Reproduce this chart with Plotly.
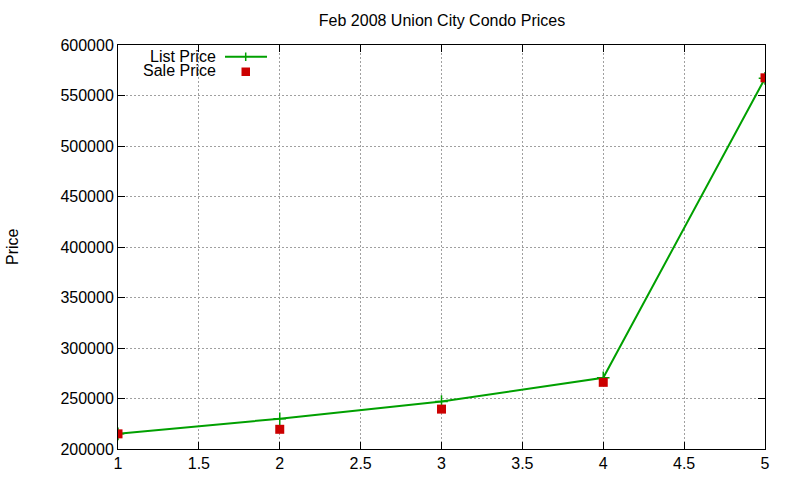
import plotly.graph_objects as go

# data
listings = [1, 2, 3, 4, 5]
list_price = [215000, 230000, 247000, 270500, 567000]
sale_price = [215000, 219500, 239500, 266000, 567500]

x_ticks = [1, 1.5, 2, 2.5, 3, 3.5, 4, 4.5, 5]
y_ticks = [200000, 250000, 300000, 350000, 400000, 450000, 500000, 550000, 600000]

GREEN = "#00a000"
RED = "#cc0000"
FONT = "Liberation Sans, Arial, sans-serif"
FS = 16

# plot area in pixels (gnuplot layout)
L, R, T, B = 118, 765, 45, 449
PW, PH = R - L, B - T


def px(x):
    return (x - L) / PW


def py(y):
    return (B - y) / PH


fig = go.Figure()

fig.add_trace(go.Scatter(
    x=listings, y=list_price, mode="lines+markers", name="List Price",
    line=dict(color=GREEN, width=2),
    marker=dict(symbol="cross-thin-open", size=9, line=dict(color=GREEN, width=1.5)),
    showlegend=False,
))
fig.add_trace(go.Scatter(
    x=listings, y=sale_price, mode="markers", name="Sale Price",
    marker=dict(symbol="square", size=9, color=RED),
    showlegend=False,
))

axis_common = dict(
    showline=True, linecolor="black", linewidth=1, mirror="ticks",
    ticks="inside", ticklen=7, tickcolor="black",
    showgrid=True, gridcolor="#a0a0a0", griddash="2px,2px", gridwidth=1,
    zeroline=False, automargin=False,
    tickfont=dict(family=FONT, size=FS, color="black"),
)

fig.update_xaxes(range=[1, 5], tickvals=x_ticks,
                 ticktext=[f"{v:g}" for v in x_ticks], **axis_common)
fig.update_yaxes(range=[200000, 600000], tickvals=y_ticks,
                 ticktext=[str(v) for v in y_ticks], **axis_common)

# gnuplot-style key: text on the left, sample on the right
for label, yc in [("List Price", 56.0), ("Sale Price", 70.5)]:
    fig.add_annotation(text=label, xref="paper", yref="paper",
                       x=px(217), y=py(yc), height=14, borderpad=0,
                       xanchor="right", yanchor="middle", valign="middle",
                       showarrow=False,
                       font=dict(family=FONT, size=FS, color="black"))
# list price sample
fig.add_shape(type="line", xref="paper", yref="paper",
              x0=px(225), x1=px(267), y0=py(56.7), y1=py(56.7),
              line=dict(color=GREEN, width=2))
fig.add_shape(type="line", xref="paper", yref="paper",
              x0=px(245.7), x1=px(245.7), y0=py(52.5), y1=py(61),
              line=dict(color=GREEN, width=1.5))
# sale price sample
fig.add_shape(type="rect", xref="paper", yref="paper",
              x0=px(241.5), x1=px(250), y0=py(67.5), y1=py(76),
              fillcolor=RED, line=dict(width=0))

fig.update_layout(
    width=800, height=480,
    margin=dict(l=L, r=800 - R, t=T, b=480 - B),
    paper_bgcolor="white", plot_bgcolor="white",
    title=dict(text="Feb 2008 Union City Condo Prices", x=442 / 800, xanchor="center",
               y=1 - 20 / 480, yanchor="middle",
               font=dict(family=FONT, size=FS, color="black")),
    font=dict(family=FONT, size=FS, color="black"),
)
fig.add_annotation(text="Price", xref="paper", yref="paper",
                   x=px(12), y=py(247), textangle=-90,
                   xanchor="center", yanchor="middle", showarrow=False,
                   font=dict(family=FONT, size=FS, color="black"))

fig.write_html("out.html", config={"displayModeBar": False},
               post_script="document.body.style.margin='0';")
